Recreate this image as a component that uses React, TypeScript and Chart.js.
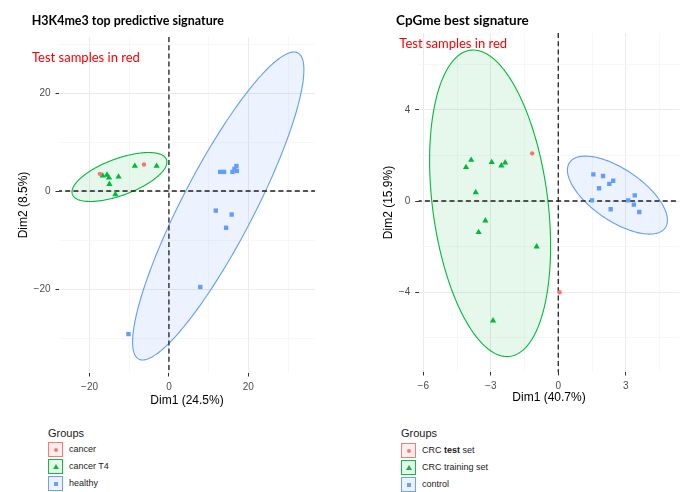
import React, { useEffect, useRef } from 'react';
import { Chart, registerables } from 'chart.js';
Chart.register(...registerables);

// ---------------- Left panel: H3K4me3 top predictive signature ----------------
const h3Labels = ['cancer', 'cancer T4', 'healthy'];
const h3Cancer = [[-17.4, 3.5], [-6.3, 5.4]];
const h3CancerT4 = [[-16.7, 3.1], [-15.6, 3.3], [-15.1, 2.7], [-15.0, 1.4], [-12.7, 2.9], [-8.6, 5.1], [-3.1, 5.1], [-13.5, -0.7]];
const h3Healthy = [[12.9, 3.9], [13.9, 3.9], [16.0, 3.9], [16.5, 4.5], [17.0, 5.1], [17.1, 4.1], [11.8, -4.0], [15.8, -4.8], [14.4, -7.5], [7.9, -19.6], [-10.2, -29.2]];
// ellipse = [centre x, centre y, semi-diameter 1 (dx, dy), conjugate semi-diameter 2 (dx, dy)] in data units
const h3EllipseT4 = [-12.47, 2.86, 11.96, 3.06, 0, 3.95];
const h3EllipseHealthy = [12.42, -3.06, 21.58, 27.77, 0, 14.72];
const h3XRange = [-27.7, 36.8];
const h3YRange = [-37.14, 31.43];
const h3XTicks = [-20, 0, 20];
const h3XGrid = [-20, -10, 0, 10, 20, 30];
const h3YTicks = [-20, 0, 20];
const h3YGrid = [-30, -20, -10, 0, 10, 20, 30];

// ---------------- Right panel: CpGme best signature ----------------
const cpgLabels = ['CRC test set', 'CRC training set', 'control'];
const cpgBoldWords = ['test'];
const cpgTest = [[-1.16, 2.09], [0.06, -4.0]];
const cpgTraining = [[-3.87, 1.8], [-4.1, 1.48], [-2.96, 1.7], [-2.53, 1.55], [-2.36, 1.68], [-3.67, 0.38], [-3.24, -0.86], [-3.54, -1.37], [-0.96, -2.0], [-2.9, -5.25]];
const cpgControl = [[1.56, 1.17], [1.99, 1.1], [2.44, 0.89], [2.27, 0.75], [1.81, 0.56], [1.5, 0.03], [2.33, -0.36], [3.11, 0.03], [3.4, 0.25], [3.36, -0.16], [3.6, -0.48]];
const cpgEllipseTraining = [-3.03, -0.1, 2.689, -1.878, 0, 6.456];
const cpgEllipseControl = [2.63, 0.26, 2.222, -1.097, 0, 1.313];
const cpgXRange = [-6.204, 5.38];
const cpgYRange = [-7.5, 7.37];
const cpgXTicks = [-6, -3, 0, 3];
const cpgXGrid = [-6, -4.5, -3, -1.5, 0, 1.5, 3, 4.5];
const cpgYTicks = [-4, 0, 4];
const cpgYGrid = [-6, -4, -2, 0, 2, 4, 6];

const COLORS = ['#F8766D', '#00BA38', '#619CFF'];
const FILLS = ['rgba(248,118,109,0.12)', 'rgba(0,186,56,0.10)', 'rgba(97,156,255,0.12)'];
const STYLES = ['circle', 'triangle', 'rect'];
const RADII = [2.2, 3.6, 3.1];

const FONT = '"Liberation Sans", Arial, Helvetica, sans-serif';
const TITLE_FONT = 'Lato, "Open Sans", sans-serif';

const fmt = (v: number) => (v < 0 ? '\u2212' + Math.abs(v) : String(v));

type PanelProps = {
  width: number;
  height: number;
  series: number[][][];
  labels: string[];
  ellipses: { params: number[]; group: number }[];
  xRange: number[];
  yRange: number[];
  xTicks: number[];
  xGrid: number[];
  yTicks: number[];
  yGrid: number[];
  xTitle: string;
  yTitle: string;
  title: string;
  note: string;
  L: {
    padRight: number; padTop: number; yAxisWidth: number; xAxisHeight: number;
    yTitlePad: number; xTitlePad: number; titleX: number; titleY: number; titleSize: number; noteX: number; noteY: number;
  };
};

function makeDecor(p: PanelProps) {
  return {
    id: 'pcaDecor',
    beforeDatasetsDraw(chart: any) {
      const { ctx, chartArea: a, scales } = chart;
      const x = scales.x, y = scales.y;
      ctx.save();
      ctx.beginPath();
      ctx.rect(a.left, a.top, a.right - a.left, a.bottom - a.top);
      ctx.clip();
      for (const e of p.ellipses) {
        const [cx, cy, ux, uy, vx, vy] = e.params;
        ctx.beginPath();
        const n = 240;
        for (let i = 0; i <= n; i++) {
          const t = (i / n) * Math.PI * 2;
          const dx = cx + ux * Math.cos(t) + vx * Math.sin(t);
          const dy = cy + uy * Math.cos(t) + vy * Math.sin(t);
          const px = x.getPixelForValue(dx);
          const py = y.getPixelForValue(dy);
          if (i === 0) ctx.moveTo(px, py); else ctx.lineTo(px, py);
        }
        ctx.closePath();
        ctx.fillStyle = FILLS[e.group];
        ctx.fill();
        ctx.strokeStyle = COLORS[e.group];
        ctx.lineWidth = 1.1;
        ctx.stroke();
      }
      const x0 = x.getPixelForValue(0);
      const y0 = y.getPixelForValue(0);
      ctx.setLineDash([5, 3.2]);
      ctx.strokeStyle = '#1f1f1f';
      ctx.lineWidth = 1.3;
      ctx.beginPath();
      ctx.moveTo(a.left - 2, y0);
      ctx.lineTo(a.right, y0);
      ctx.moveTo(x0, a.top);
      ctx.lineTo(x0, a.bottom);
      ctx.stroke();
      ctx.restore();
    },
    afterDraw(chart: any) {
      const { ctx } = chart;
      ctx.save();
      ctx.textBaseline = 'alphabetic';
      ctx.textAlign = 'left';
      ctx.fillStyle = '#000000';
      ctx.font = 'bold ' + p.L.titleSize + 'px ' + TITLE_FONT;
      ctx.fillText(p.title, p.L.titleX, p.L.titleY);
      ctx.fillStyle = '#FF0000';
      ctx.font = '13px ' + TITLE_FONT;
      ctx.fillText(p.note, p.L.noteX, p.L.noteY);
      ctx.restore();
    },
  };
}

function axis(range: number[], grid: number[], major: number[], title: string, vertical: boolean, L: PanelProps['L']) {
  const isMajor = (v: number) => major.includes(v);
  return {
    type: 'linear',
    min: range[0],
    max: range[1],
    afterBuildTicks: (s: any) => {
      s.ticks = grid.map((v) => ({ value: v }));
    },
    afterFit: (s: any) => {
      if (vertical) s.width = L.yAxisWidth; else s.height = L.xAxisHeight;
    },
    border: { display: false },
    grid: {
      drawTicks: true,
      tickLength: 3.5,
      tickWidth: 1,
      color: (c: any) => (c.tick && isMajor(c.tick.value) ? '#EBEBEB' : '#F3F3F3'),
      lineWidth: (c: any) => (c.tick && isMajor(c.tick.value) ? 1 : 0.7),
      tickColor: (c: any) => (c.tick && isMajor(c.tick.value) ? '#333333' : 'rgba(0,0,0,0)'),
    },
    ticks: {
      autoSkip: false,
      maxRotation: 0,
      minRotation: 0,
      padding: 5,
      color: '#4D4D4D',
      font: { family: FONT, size: 10 },
      callback: (v: any) => (isMajor(Number(v)) ? fmt(Number(v)) : ''),
    },
    title: {
      display: true,
      text: title,
      color: '#000000',
      font: { family: FONT, size: 12, lineHeight: 1.2 },
      padding: vertical ? { top: L.yTitlePad, bottom: 0 } : { top: 0, bottom: L.xTitlePad },
    },
  };
}

function PcaPanel(p: PanelProps) {
  const ref = useRef<HTMLCanvasElement | null>(null);
  useEffect(() => {
    if (!ref.current) return;
    const chart = new Chart(ref.current, {
      type: 'scatter',
      data: {
        datasets: p.series.map((pts, i) => ({
          label: p.labels[i],
          data: pts.map(([x, y]) => ({ x, y })),
          pointStyle: STYLES[i],
          pointRadius: RADII[i],
          pointHoverRadius: RADII[i],
          backgroundColor: COLORS[i],
          borderColor: COLORS[i],
          borderWidth: 0,
        })),
      } as any,
      options: {
        animation: false,
        responsive: false,
        devicePixelRatio: 1,
        events: [],
        layout: { padding: { left: 0, right: p.L.padRight, top: p.L.padTop, bottom: 0 } },
        plugins: { legend: { display: false }, tooltip: { enabled: false }, title: { display: false } },
        scales: {
          x: axis(p.xRange, p.xGrid, p.xTicks, p.xTitle, false, p.L),
          y: axis(p.yRange, p.yGrid, p.yTicks, p.yTitle, true, p.L),
        } as any,
      },
      plugins: [makeDecor(p) as any],
    });
    return () => chart.destroy();
  }, []);
  return <canvas ref={ref} width={p.width} height={p.height} style={{ display: 'block', width: p.width, height: p.height }} />;
}

function Symbol({ i }: { i: number }) {
  const c = COLORS[i];
  if (i === 0) return <div style={{ width: 4, height: 4, borderRadius: '50%', background: c }} />;
  if (i === 1)
    return <div style={{ width: 0, height: 0, borderLeft: '3px solid transparent', borderRight: '3px solid transparent', borderBottom: '5px solid ' + c }} />;
  return <div style={{ width: 4, height: 4, background: c }} />;
}

function Label({ text, bold }: { text: string; bold: string[] }) {
  const words = text.split(' ');
  return (
    <span>
      {words.map((w, k) => (
        <React.Fragment key={k}>
          {k > 0 ? ' ' : ''}
          {bold.includes(w) ? <b>{w}</b> : w}
        </React.Fragment>
      ))}
    </span>
  );
}

function Legend({ left, top, labels, bold, keyTop, pitch }: { left: number; top: number; labels: string[]; bold: string[]; keyTop: number; pitch: number }) {
  return (
    <div style={{ position: 'absolute', left, top, fontFamily: FONT, color: '#1a1a1a' }}>
      <div style={{ fontSize: 11, lineHeight: '13px', whiteSpace: 'nowrap' }}>Groups</div>
      {labels.map((lab, i) => (
        <div key={i} style={{ position: 'absolute', left: 0, top: keyTop + i * pitch, height: 15, display: 'flex', alignItems: 'center' }}>
          <div
            style={{
              boxSizing: 'border-box',
              width: 15,
              height: 15,
              border: '1.2px solid ' + COLORS[i],
              background: FILLS[i],
              opacity: 0.95,
              display: 'flex',
              alignItems: 'center',
              justifyContent: 'center',
            }}
          >
            <Symbol i={i} />
          </div>
          <span style={{ marginLeft: 6, fontSize: 9, lineHeight: '11px', whiteSpace: 'nowrap' }}>
            <Label text={lab} bold={bold} />
          </span>
        </div>
      ))}
    </div>
  );
}

export default function App() {
  return (
    <div style={{ position: 'absolute', left: 0, top: 0, width: 683, height: 492, background: '#ffffff', overflow: 'hidden' }}>
      <div style={{ position: 'absolute', left: 0, top: 0 }}>
        <PcaPanel
          width={341}
          height={410}
          series={[h3Cancer, h3CancerT4, h3Healthy]}
          labels={h3Labels}
          ellipses={[{ params: h3EllipseT4, group: 1 }, { params: h3EllipseHealthy, group: 2 }]}
          xRange={h3XRange}
          yRange={h3YRange}
          xTicks={h3XTicks}
          xGrid={h3XGrid}
          yTicks={h3YTicks}
          yGrid={h3YGrid}
          xTitle="Dim1 (24.5%)"
          yTitle="Dim2 (8.5%)"
          title="H3K4me3 top predictive signature"
          note="Test samples in red"
          L={{ padRight: 26, padTop: 37, yAxisWidth: 59, xAxisHeight: 37, yTitlePad: 16.8, xTitlePad: 2.3, titleX: 31.7, titleY: 25, titleSize: 12.5, noteX: 32, noteY: 61.7 }}
        />
      </div>
      <div style={{ position: 'absolute', left: 341, top: 0 }}>
        <PcaPanel
          width={342}
          height={410}
          series={[cpgTest, cpgTraining, cpgControl]}
          labels={cpgLabels}
          ellipses={[{ params: cpgEllipseTraining, group: 1 }, { params: cpgEllipseControl, group: 2 }]}
          xRange={cpgXRange}
          yRange={cpgYRange}
          xTicks={cpgXTicks}
          xGrid={cpgXGrid}
          yTicks={cpgYTicks}
          yGrid={cpgYGrid}
          xTitle="Dim1 (40.7%)"
          yTitle="Dim2 (15.9%)"
          title="CpGme best signature"
          note="Test samples in red"
          L={{ padRight: 3.7, padTop: 33, yAxisWidth: 77.7, xAxisHeight: 38, yTitlePad: 40.8, xTitlePad: 4.8, titleX: 55, titleY: 25, titleSize: 13.5, noteX: 58.3, noteY: 47.5 }}
        />
      </div>
      <Legend left={48} top={426.7} labels={h3Labels} bold={[]} keyTop={15.6} pitch={17} />
      <Legend left={401} top={427} labels={cpgLabels} bold={cpgBoldWords} keyTop={16.3} pitch={16.9} />
    </div>
  );
}
